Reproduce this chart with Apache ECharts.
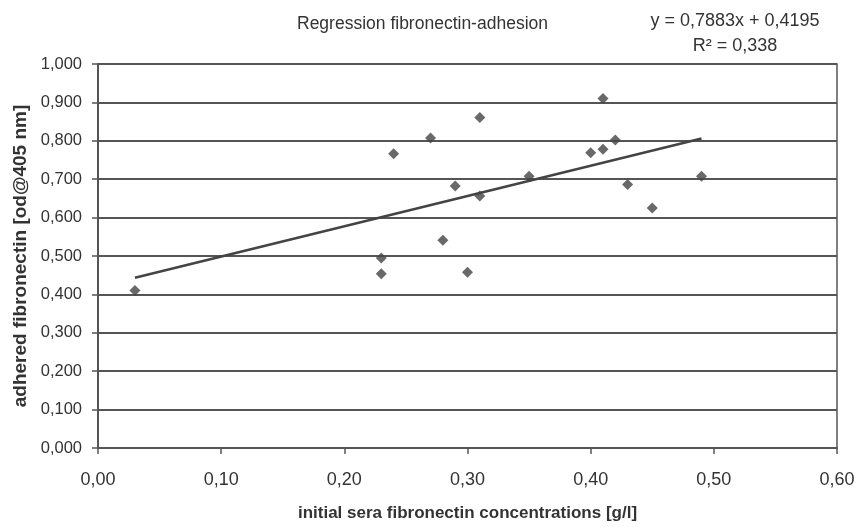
<!DOCTYPE html>
<html>
<head>
<meta charset="utf-8">
<script src="https://cdn.jsdelivr.net/npm/echarts@6/dist/echarts.min.js"></script>
<style>
  html, body { margin: 0; padding: 0; background: #fff; }
  #chart { width: 858px; height: 527px; }
</style>
</head>
<body>
<div id="chart"></div>
<script>
// measured points: initial fibronectin [g/l] vs adhered fibronectin [od]
var concX = [0.03, 0.23, 0.23, 0.24, 0.27, 0.28, 0.29, 0.30, 0.31, 0.31,
             0.35, 0.40, 0.41, 0.41, 0.42, 0.43, 0.45, 0.49];
var adhY  = [0.410, 0.495, 0.454, 0.766, 0.807, 0.541, 0.682, 0.458, 0.861, 0.656,
             0.708, 0.769, 0.910, 0.778, 0.802, 0.686, 0.625, 0.708];

// regression as printed on the chart
var slope = 0.7883;
var intercept = 0.4195;
var rSquared = '0,338';

var xTicks = [0, 0.6, 0.1];   // min, max, step
var yTicks = [0, 1.0, 0.1];

var FONT = 'Liberation Sans, Arial, sans-serif';
var INK = '#444';

var pts = [];
for (var i = 0; i < concX.length; i++) {
    pts.push([concX[i], adhY[i]]);
}
var xMin = Math.min.apply(null, concX), xMax = Math.max.apply(null, concX);
var trend = [[xMin, slope * xMin + intercept], [xMax, slope * xMax + intercept]];

function comma(v, d) {
    return v.toFixed(d).replace('.', ',');
}

var chart = echarts.init(document.getElementById('chart'));
var option = {
    backgroundColor: '#fff',
    animation: false,
    textStyle: { fontFamily: FONT },
    title: [
        {
            text: 'Regression fibronectin-adhesion',
            left: 292, top: 10,
            textStyle: { fontSize: 17.5, fontWeight: 'normal', color: '#333', fontFamily: FONT }
        },
        {
            text: 'y = ' + comma(slope, 4) + 'x + ' + comma(intercept, 4) + '\nR² = ' + rSquared,
            left: 730, top: 4,
            textAlign: 'center',
            textStyle: { fontSize: 18, fontWeight: 'normal', color: '#333', lineHeight: 25, fontFamily: FONT }
        }
    ],
    grid: {
        left: 98, right: 21, top: 64, bottom: 75,
        show: true,
        borderColor: '#555', borderWidth: 1.5
    },
    xAxis: {
        type: 'value',
        min: xTicks[0], max: xTicks[1], interval: xTicks[2],
        name: 'initial sera fibronectin concentrations [g/l]',
        nameLocation: 'middle', nameGap: 57,
        nameTextStyle: { fontSize: 17, fontWeight: 'bold', color: '#333', fontFamily: FONT },
        axisLine: { lineStyle: { color: '#555', width: 2 } },
        axisTick: { show: true, inside: false, length: 6, lineStyle: { color: '#555', width: 1.5 } },
        axisLabel: { fontSize: 18, color: '#333', margin: 23, formatter: function (v) { return comma(v, 2); } },
        splitLine: { show: false }
    },
    yAxis: {
        type: 'value',
        min: yTicks[0], max: yTicks[1], interval: yTicks[2],
        name: 'adhered fibronectin [od@405 nm]',
        nameLocation: 'middle', nameGap: 66, nameRotate: 90,
        nameTextStyle: { fontSize: 19, fontWeight: 'bold', color: '#333', fontFamily: FONT },
        axisLine: { show: true, lineStyle: { color: '#555', width: 2 } },
        axisTick: { show: true, inside: false, length: 6, lineStyle: { color: '#555', width: 1.5 } },
        axisLabel: { fontSize: 16.5, color: '#333', margin: 16, formatter: function (v) { return comma(v, 3); } },
        splitLine: { show: true, lineStyle: { color: '#555', width: 2 } }
    },
    series: [
        {
            type: 'line',
            data: trend,
            symbol: 'none',
            lineStyle: { color: INK, width: 2.5 },
            z: 3
        },
        {
            type: 'scatter',
            data: pts,
            symbol: 'diamond',
            symbolSize: 11,
            itemStyle: { color: INK },
            z: 4
        }
    ]
};
chart.setOption(option);
</script>
</body>
</html>
